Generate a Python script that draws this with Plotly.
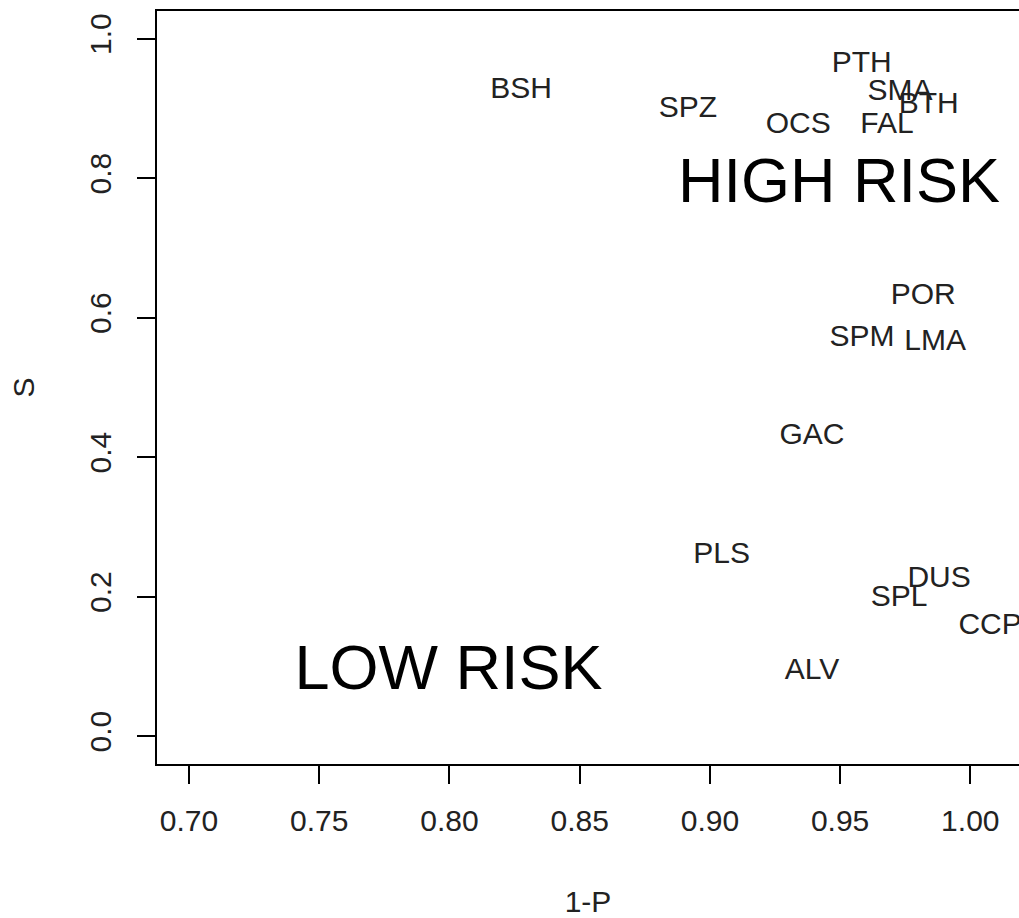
import plotly.graph_objects as go

# Species labels and their (1-P, S) positions
species = ["BSH", "SPZ", "PTH", "SMA", "BTH", "OCS", "FAL", "POR", "SPM", "LMA",
           "GAC", "PLS", "DUS", "SPL", "CCP", "ALV"]
one_minus_p = [0.8275, 0.8916, 0.9583, 0.9730, 0.9840, 0.9339, 0.9680, 0.9819,
               0.9584, 0.9865, 0.9392, 0.9045, 0.9880, 0.9727, 1.0076, 0.9392]
s_values = [0.926, 0.898, 0.963, 0.923, 0.904, 0.876, 0.876, 0.630,
            0.570, 0.564, 0.430, 0.259, 0.225, 0.197, 0.157, 0.093]

# Region labels
region_text = ["HIGH RISK", "LOW RISK"]
region_x = [0.9496, 0.7996]
region_y = [0.789, 0.090]

x_ticks = [0.70, 0.75, 0.80, 0.85, 0.90, 0.95, 1.00]
x_ticklabels = ["0.70", "0.75", "0.80", "0.85", "0.90", "0.95", "1.00"]
y_ticks = [0.0, 0.2, 0.4, 0.6, 0.8, 1.0]
y_ticklabels = ["0.0", "0.2", "0.4", "0.6", "0.8", "1.0"]

FONT = "Liberation Sans, Arial, sans-serif"

fig = go.Figure()
fig.add_trace(go.Scatter(
    x=one_minus_p, y=s_values, text=species, mode="text",
    textposition="middle center",
    textfont=dict(family=FONT, size=30, color="#222222"),
    cliponaxis=True, hoverinfo="skip", showlegend=False,
))
fig.add_trace(go.Scatter(
    x=region_x, y=region_y, text=region_text, mode="text",
    textposition="middle center",
    textfont=dict(family=FONT, size=63, color="#000000"),
    cliponaxis=True, hoverinfo="skip", showlegend=False,
))

axis_common = dict(
    showgrid=False, zeroline=False, showline=True, linecolor="black", linewidth=2,
    ticks="outside", ticklen=18, tickwidth=2, tickcolor="black",
    tickfont=dict(family=FONT, size=30, color="#222222"),
    title_font=dict(family=FONT, size=30, color="#222222"),
)

fig.update_layout(
    width=1019, height=918,
    margin=dict(l=157, r=0, t=11, b=154, autoexpand=False),
    paper_bgcolor="white", plot_bgcolor="white",
    xaxis=dict(range=[0.6877, 1.0187], tickvals=x_ticks, ticktext=x_ticklabels,
               mirror=True, ticklabelstandoff=11,
               title=dict(text="1-P", standoff=56), **axis_common),
    yaxis=dict(range=[-0.04, 1.0397], tickvals=y_ticks, ticktext=y_ticklabels,
               tickangle=-90, mirror=False, ticklabelstandoff=14,
               title=dict(text="S", standoff=41), **axis_common),
)

fig.write_html(
    "out.html",
    config={"displayModeBar": False, "staticPlot": True},
    post_script="document.body.style.margin='0';document.body.style.overflow='hidden';",
)
